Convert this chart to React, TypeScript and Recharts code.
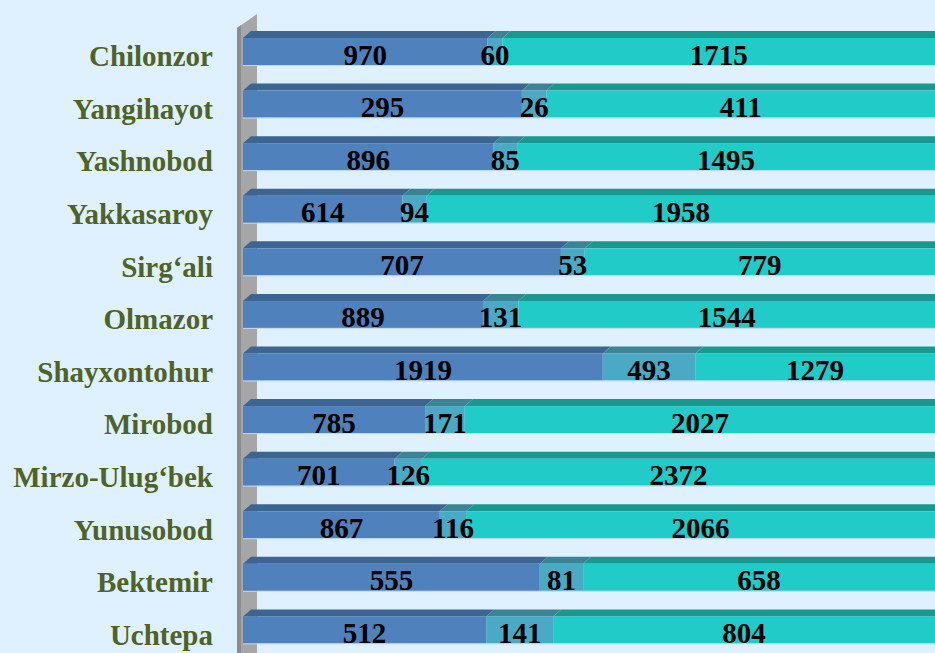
import { Bar, BarChart, LabelList, XAxis, YAxis } from 'recharts';

const districts = [
  'Chilonzor', 'Yangihayot', 'Yashnobod', 'Yakkasaroy', 'Sirg‘ali', 'Olmazor',
  'Shayxontohur', 'Mirobod', 'Mirzo-Ulug‘bek', 'Yunusobod', 'Bektemir', 'Uchtepa',
];
const seriesA = [970, 295, 896, 614, 707, 889, 1919, 785, 701, 867, 555, 512];
const seriesB = [60, 26, 85, 94, 53, 131, 493, 171, 126, 116, 81, 141];
const seriesC = [1715, 411, 1495, 1958, 779, 1544, 1279, 2027, 2372, 2066, 658, 804];

const data = districts.map((name, i) => ({ name, a: seriesA[i], b: seriesB[i], c: seriesC[i] }));

const FONT = '"Liberation Serif", "Times New Roman", serif';
const DX = 8;
const DY = 7;

// front face + slanted top face for a flat 3D look
const makeShape = (front: string, top: string) => (props: any) => {
  const { x, y, width, height } = props;
  if (!width || width <= 0) return <g />;
  const pts = `${x},${y} ${x + DX},${y - DY} ${x + width + DX},${y - DY} ${x + width},${y}`;
  return (
    <g>
      <polygon points={pts} fill={top} />
      <rect x={x} y={y} width={width} height={height} fill={front} />
      <line x1={x} x2={x + width} y1={y + height + 0.5} y2={y + height + 0.5} stroke="#bcd9ef" strokeWidth={1} />
    </g>
  );
};

const renderValue = (props: any) => {
  const { x, y, width, height, value } = props;
  return (
    <text
      x={x + width / 2}
      y={y + height / 2 + 13}
      textAnchor="middle"
      fill="#000"
      fontSize={29}
      fontWeight="bold"
      fontFamily={FONT}
    >
      {value}
    </text>
  );
};

const DistrictTick = (props: any) => {
  const { x, y, payload } = props;
  return (
    <text x={x} y={y + 15} textAnchor="end" fill="#4f6228" fontSize={29} fontWeight="bold" fontFamily={FONT}>
      {payload.value}
    </text>
  );
};

export default function App() {
  return (
    <div style={{ position: 'absolute', left: 0, top: 0, width: 935, height: 653, overflow: 'hidden', background: '#dff1fe' }}>
      {/* side wall of the 3D plot */}
      <svg width={935} height={653} style={{ position: 'absolute', left: 0, top: 0 }}>
        <polygon points="237,28 257,14 257,653 237,653" fill="#a6a6a6" />
        <polygon points="237,28 241,25 241,653 237,653" fill="#8c8c8c" />
      </svg>
      <div style={{ position: 'absolute', left: 0, top: 0 }}>
        <BarChart
          width={935}
          height={660}
          data={data}
          layout="vertical"
          stackOffset="expand"
          margin={{ top: 25, right: 0, bottom: 4, left: 0 }}
          barSize={27}
        >
          <XAxis type="number" hide domain={[0, 1]} />
          <YAxis
            type="category"
            dataKey="name"
            width={243}
            axisLine={false}
            tickLine={false}
            tickSize={0}
            tickMargin={30}
            interval={0}
            tick={<DistrictTick />}
          />
          <Bar dataKey="a" stackId="s" isAnimationActive={false} shape={makeShape('#4f81bd', '#3d6591')}>
            <LabelList dataKey="a" content={renderValue} />
          </Bar>
          <Bar dataKey="b" stackId="s" isAnimationActive={false} shape={makeShape('#4aaac6', '#3a8496')}>
            <LabelList dataKey="b" content={renderValue} />
          </Bar>
          <Bar dataKey="c" stackId="s" isAnimationActive={false} shape={makeShape('#21cbc8', '#1a9890')}>
            <LabelList dataKey="c" content={renderValue} />
          </Bar>
        </BarChart>
      </div>
    </div>
  );
}
